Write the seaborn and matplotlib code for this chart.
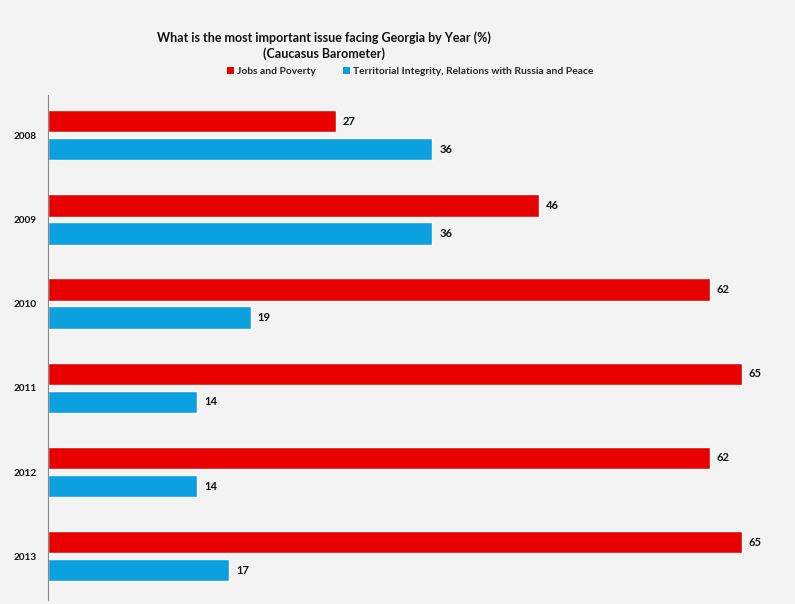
import matplotlib
matplotlib.use("Agg")
import matplotlib.pyplot as plt
import seaborn as sns
import pandas as pd
from matplotlib.patches import Patch

years = ["2008", "2009", "2010", "2011", "2012", "2013"]
jobs_poverty = [27, 46, 62, 65, 62, 65]
territorial = [36, 36, 19, 14, 14, 17]
series_names = ["Jobs and Poverty", "Territorial Integrity, Relations with Russia and Peace"]

df = pd.DataFrame({
    "Year": years * 2,
    "Value": jobs_poverty + territorial,
    "Issue": [series_names[0]] * len(years) + [series_names[1]] * len(years),
})

sns.set_theme(style="white")
plt.rcParams["font.family"] = ["Lato", "DejaVu Sans"]

bg = "#f3f3f3"
fig = plt.figure(figsize=(7.95, 6.04), dpi=100, facecolor=bg)
ax = fig.add_axes([0.0604, 0.0066, 0.9396, 0.8366])
ax.set_facecolor(bg)

palette = {series_names[0]: "#e80000", series_names[1]: "#0ba0e0"}
sns.barplot(data=df, x="Value", y="Year", hue="Issue", orient="h", palette=palette,
            width=0.666, gap=0.2, ax=ax, legend=False, saturation=1)

for cont in ax.containers:
    ax.bar_label(cont, fmt="%d", padding=5, fontsize=8, fontweight="bold", color="#111111")

ax.set_xlim(0, 70)
ax.set_ylim(5.52, -0.48)
ax.set_xlabel("")
ax.set_ylabel("")
ax.set_xticks([])
ax.tick_params(axis="y", length=0, pad=8, labelsize=7.2, labelcolor="#111111")
for lab in ax.get_yticklabels():
    lab.set_fontweight("bold")
for s in ["top", "right", "bottom"]:
    ax.spines[s].set_visible(False)
ax.spines["left"].set_color("#888888")
ax.spines["left"].set_linewidth(0.8)

fig.text(0.408, 0.938, "What is the most important issue facing Georgia by Year (%)",
         ha="center", va="center", fontsize=9, fontweight="bold", color="#111111")
fig.text(0.408, 0.911, "(Caucasus Barometer)",
         ha="center", va="center", fontsize=9, fontweight="bold", color="#111111")

handles = [Patch(facecolor=palette[n], edgecolor="none") for n in series_names]
fig.legend(handles, series_names, loc="center", bbox_to_anchor=(0.516, 0.882), ncol=2,
           frameon=False, handlelength=0.7, handleheight=0.7,
           handletextpad=0.3, columnspacing=2.6, prop={"weight": "bold", "size": 7.4})

fig.savefig("out.png", dpi=100, facecolor=bg)
